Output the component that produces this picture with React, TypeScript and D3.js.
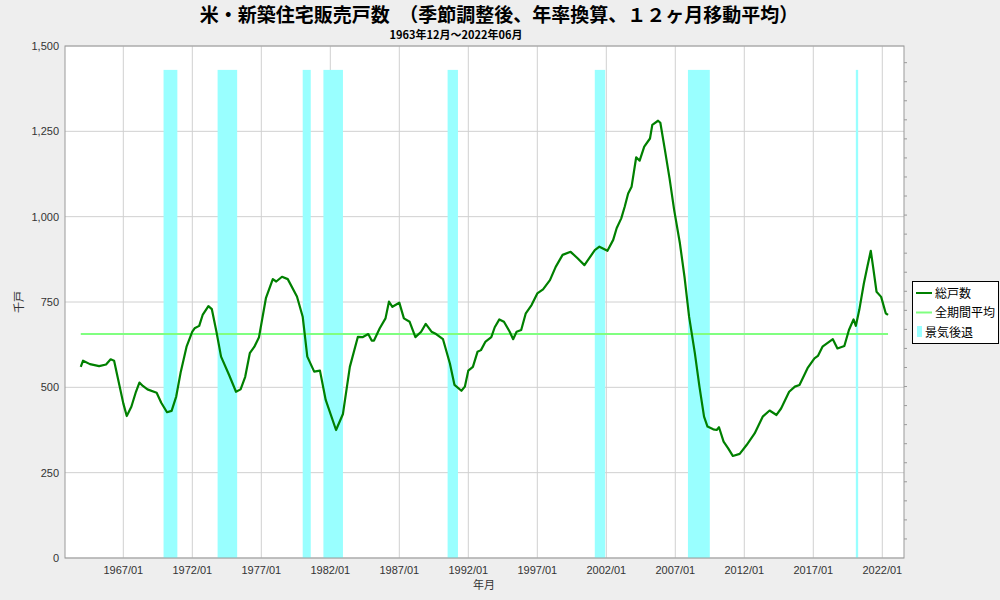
import React from "react";
import * as d3 from "d3";

// ---- data ----
const months = [
  "1963/12","1964/02","1964/08","1965/04","1965/10","1966/02","1966/05","1966/08","1967/01","1967/04",
  "1967/08","1967/12","1968/03","1968/06","1968/10","1969/06","1969/10","1970/03","1970/07","1970/11",
  "1971/03","1971/08","1972/01","1972/03","1972/07","1972/10","1973/03","1973/06","1973/10","1974/02",
  "1974/09","1975/03","1975/07","1975/11","1976/03","1976/07","1976/11","1977/05","1977/11","1978/02",
  "1978/07","1978/12","1979/08","1980/01","1980/05","1980/11","1981/04","1981/09","1982/06","1982/12",
  "1983/06","1984/01","1984/05","1984/10","1985/01","1985/03","1985/08","1986/01","1986/04","1986/07",
  "1987/01","1987/05","1987/10","1988/03","1988/08","1988/12","1989/05","1989/09","1990/03","1990/09",
  "1991/01","1991/07","1991/10","1992/01","1992/05","1992/09","1992/12","1993/04","1993/09","1993/12",
  "1994/04","1994/08","1995/01","1995/04","1995/07","1995/11","1996/03","1996/08","1997/01","1997/06",
  "1997/12","1998/05","1998/11","1999/06","1999/12","2000/06","2001/03","2001/07","2002/02","2002/07",
  "2002/10","2003/02","2003/05","2003/08","2003/11","2004/03","2004/06","2004/10","2005/03","2005/05",
  "2005/10","2005/12","2006/04","2006/08","2006/12","2007/05","2007/09","2008/01","2008/06","2008/10",
  "2009/02","2009/05","2009/10","2010/01","2010/03","2010/07","2010/11","2011/03","2011/09","2012/03",
  "2012/10","2013/05","2013/11","2014/05","2014/09","2015/04","2015/09","2016/01","2016/08","2017/02",
  "2017/05","2017/09","2018/06","2018/10","2019/04","2019/08","2019/12","2020/02","2020/05","2020/09",
  "2020/12","2021/03","2021/05","2021/08","2021/12","2022/04","2022/06"
];
const sales = [
  560,578,568,562,567,582,578,531,453,416,
  443,487,514,504,494,484,455,427,431,473,
  546,619,663,673,680,712,738,729,663,590,
  536,487,494,531,600,619,647,761,817,810,
  824,817,766,707,590,546,549,463,375,422,
  560,648,647,656,637,637,673,702,751,736,
  748,702,692,647,663,686,663,656,641,570,
  507,490,502,549,560,604,609,634,647,676,
  699,692,663,641,663,668,717,741,775,787,
  814,853,888,897,878,858,902,912,900,932,
  966,995,1029,1068,1088,1174,1164,1205,1229,1269,
  1281,1275,1195,1112,1020,922,824,707,600,502,
  414,385,377,375,383,341,321,299,305,331,
  365,414,432,419,438,487,502,507,556,585,
  592,619,641,614,621,668,699,680,727,805,
  853,900,853,780,765,717,712
];
const periodAverage = [656];
const recessionStart = ["1969/12","1973/11","1980/01","1981/07","1990/07","2001/03","2007/12","2020/02"];
const recessionEnd   = ["1970/11","1975/03","1980/07","1982/11","1991/03","2001/11","2009/06","2020/03"];
const recessionLevel = [1430];
const yTickValues = [0, 250, 500, 750, 1000, 1250, 1500];
const xTickYears = [1967, 1972, 1977, 1982, 1987, 1992, 1997, 2002, 2007, 2012, 2017, 2022];
const legendLabels = ["総戸数", "全期間平均", "景気後退"];
const titleText = "米・新築住宅販売戸数　（季節調整後、年率換算、１２ヶ月移動平均）";
const subtitleText = "1963年12月～2022年06月";

const toYear = (s: string) => {
  const [y, m] = s.split("/").map(Number);
  return y + (m - 1) / 12;
};

const FONT = "'Liberation Sans', Arial, 'Noto Sans CJK JP', sans-serif";
const JFONT = "'Noto Sans CJK JP', 'Liberation Sans', sans-serif";

export default function App() {
  const left = 65, right = 904, top = 46, bottom = 558;
  const x = d3.scaleLinear().domain([1962.775, 2023.573]).range([left, right]);
  const y = d3.scaleLinear().domain([0, 1500]).range([bottom, top]);
  const y2 = d3.scaleLinear().domain([0, 1.075]).range([bottom, top]);
  const rightTicks = d3.range(0.04, 1.075, 0.04);

  const pts = months.map((m, i) => [toYear(m), sales[i]] as [number, number]);
  const line = d3.line<[number, number]>().x(d => x(d[0])).y(d => y(d[1]));
  const firstYear = toYear(months[0]);
  const lastYear = toYear(months[months.length - 1]);

  return (
    <svg width={1000} height={600} style={{ position: "absolute", left: 0, top: 0, background: "#eeeeee" }}>
      <rect x={0} y={0} width={1000} height={600} fill="#eeeeee" />
      <text x={499} y={21.5} textAnchor="middle" fontFamily={JFONT} fontWeight="bold" fontSize={19} fill="#000">{titleText}</text>
      <text x={456} y={39} textAnchor="middle" fontFamily={JFONT} fontWeight="bold" fontSize={11} fill="#000">{subtitleText}</text>

      <rect x={left} y={top} width={right - left} height={bottom - top} fill="#ffffff" />
      {/* gridlines */}
      {yTickValues.map(v => (
        <line key={"gy" + v} x1={left} x2={right} y1={y(v)} y2={y(v)} stroke="#d0d0d0" strokeWidth={1} />
      ))}
      {xTickYears.map(v => (
        <line key={"gx" + v} x1={x(v)} x2={x(v)} y1={top} y2={bottom} stroke="#d0d0d0" strokeWidth={1} />
      ))}
      {/* recessions */}
      {recessionStart.map((s, i) => {
        const x0 = x(toYear(s));
        const x1 = x(toYear(recessionEnd[i]) + 1 / 12);
        return (
          <rect key={"r" + i} x={x0} y={y(recessionLevel[0])} width={x1 - x0} height={bottom - y(recessionLevel[0])}
            fill="#99ffff" />
        );
      })}
      {/* average */}
      <line x1={x(firstYear)} x2={x(lastYear)} y1={y(periodAverage[0])} y2={y(periodAverage[0])} stroke="#80ff80" strokeWidth={2} />
      {/* series */}
      <path d={line(pts) || ""} fill="none" stroke="#008000" strokeWidth={2.2} strokeLinejoin="round" />

      {/* frame */}
      <rect x={left} y={top} width={right - left} height={bottom - top} fill="none" stroke="#999999" strokeWidth={1} />
      {rightTicks.map((t, i) => (
        <line key={"rt" + i} x1={right} x2={right + 3} y1={y2(t)} y2={y2(t)} stroke="#999999" />
      ))}

      {/* y labels */}
      {yTickValues.map(v => (
        <text key={"yl" + v} x={59} y={y(v) + 4} textAnchor="end" fontFamily={FONT} fontSize={11} fill="#333">
          {d3.format(",")(v)}
        </text>
      ))}
      {xTickYears.map(v => (
        <text key={"xl" + v} x={x(v)} y={574} textAnchor="middle" fontFamily={FONT} fontSize={11} fill="#333">
          {`${v}/01`}
        </text>
      ))}
      <text x={484} y={589} textAnchor="middle" fontFamily={JFONT} fontSize={11} fill="#333">年月</text>
      <text transform={`translate(23,${(top + bottom) / 2}) rotate(-90)`} textAnchor="middle" fontFamily={JFONT} fontSize={11} fill="#333">千戸</text>

      {/* legend */}
      <rect x={912.5} y={281.5} width={86} height={62} fill="#ffffff" stroke="#000" strokeWidth={1} />
      <line x1={916} x2={932} y1={293} y2={293} stroke="#008000" strokeWidth={2} />
      <text x={935} y={297.5} fontFamily={JFONT} fontSize={12} fill="#000">{legendLabels[0]}</text>
      <line x1={916} x2={932} y1={312.5} y2={312.5} stroke="#80ff80" strokeWidth={2} />
      <text x={935} y={317} fontFamily={JFONT} fontSize={12} fill="#000">{legendLabels[1]}</text>
      <rect x={917} y={326} width={5} height={11} fill="#99ffff" />
      <text x={925} y={336.5} fontFamily={JFONT} fontSize={12} fill="#000">{legendLabels[2]}</text>
    </svg>
  );
}
